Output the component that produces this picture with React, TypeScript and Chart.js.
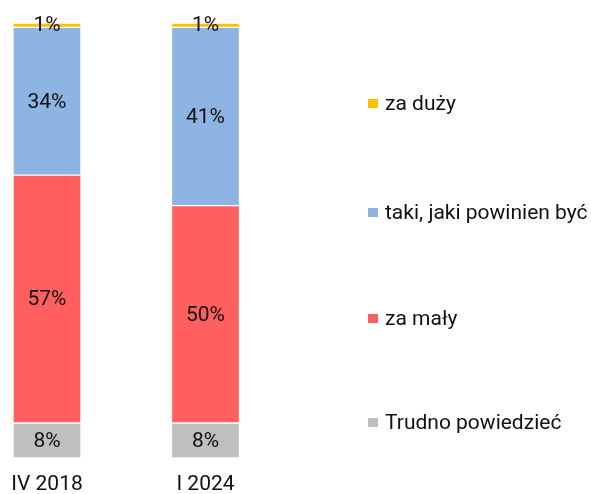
import React, { useEffect, useRef } from "react";
import { Chart, registerables } from "chart.js";

Chart.register(...registerables);

const categories = ["IV 2018", "I 2024"];
const seriesNames = ["Trudno powiedzieć", "za mały", "taki, jaki powinien być", "za duży"];
const trudno = [8, 8];
const zaMaly = [57, 50];
const taki = [34, 41];
const zaDuzy = [1, 1];
const colors = ["#BFBFBF", "#FF5F5F", "#8EB4E3", "#FFC000"];
const legendTops = [422, 318, 212, 103];

const FONT = "Roboto, 'Noto Sans', sans-serif";
const FS = 21;

const labelPlugin = {
  id: "segLabels",
  afterDatasetsDraw(chart: any) {
    const ctx = chart.ctx;
    ctx.save();
    ctx.font = `${FS}px ${FONT}`;
    ctx.fillStyle = "#111";
    ctx.textAlign = "center";
    ctx.textBaseline = "middle";
    chart.data.datasets.forEach((ds: any, i: number) => {
      const meta = chart.getDatasetMeta(i);
      meta.data.forEach((el: any, j: number) => {
        const v = ds.data[j];
        const y = (el.y + el.base) / 2;
        ctx.fillText(`${v}%`, el.x, y + 1);
      });
    });
    ctx.restore();
  },
};

export default function App() {
  const ref = useRef<HTMLCanvasElement | null>(null);
  useEffect(() => {
    document.body.style.margin = "0";
    const values = [trudno, zaMaly, taki, zaDuzy];
    const chart = new Chart(ref.current as HTMLCanvasElement, {
      type: "bar",
      data: {
        labels: categories,
        datasets: seriesNames.map((name, i) => ({
          label: name,
          data: values[i],
          backgroundColor: colors[i],
          borderColor: "#ffffff",
          borderWidth: 1,
          borderSkipped: false,
          barThickness: 68,
          clip: false as any,
        })),
      },
      options: {
        animation: false,
        responsive: false,
        maintainAspectRatio: false,
        layout: { padding: { left: 47, right: 385.5, top: 23, bottom: -17 } },
        plugins: { legend: { display: false }, tooltip: { enabled: false } },
        scales: {
          x: {
            stacked: true,
            offset: false,
            grid: { display: false, drawTicks: false },
            border: { display: false },
            ticks: { color: "#111", font: { family: FONT, size: FS }, padding: 14, autoSkip: false, maxRotation: 0 },
            afterFit(scale: any) {
              scale.paddingLeft = 0;
              scale.paddingRight = 0;
            },
          },
          y: {
            stacked: true,
            display: false,
            min: 0,
            max: 100,
          },
        },
      },
      plugins: [labelPlugin],
    });
    return () => chart.destroy();
  }, []);

  return (
    <div style={{ position: "relative", width: 591, height: 494 }}>
      <canvas ref={ref} width={591} height={494} style={{ display: "block" }} />
      {seriesNames.map((name, i) => (
        <div
          key={name}
          style={{
            position: "absolute",
            left: 368,
            top: legendTops[i] - 14,
            height: 28,
            display: "flex",
            alignItems: "center",
            fontFamily: FONT,
            fontSize: FS,
            color: "#111",
            whiteSpace: "nowrap",
          }}
        >
          <span style={{ display: "inline-block", width: 10, height: 9, background: colors[i], marginRight: 7 }} />
          <span>{name}</span>
        </div>
      ))}
    </div>
  );
}
